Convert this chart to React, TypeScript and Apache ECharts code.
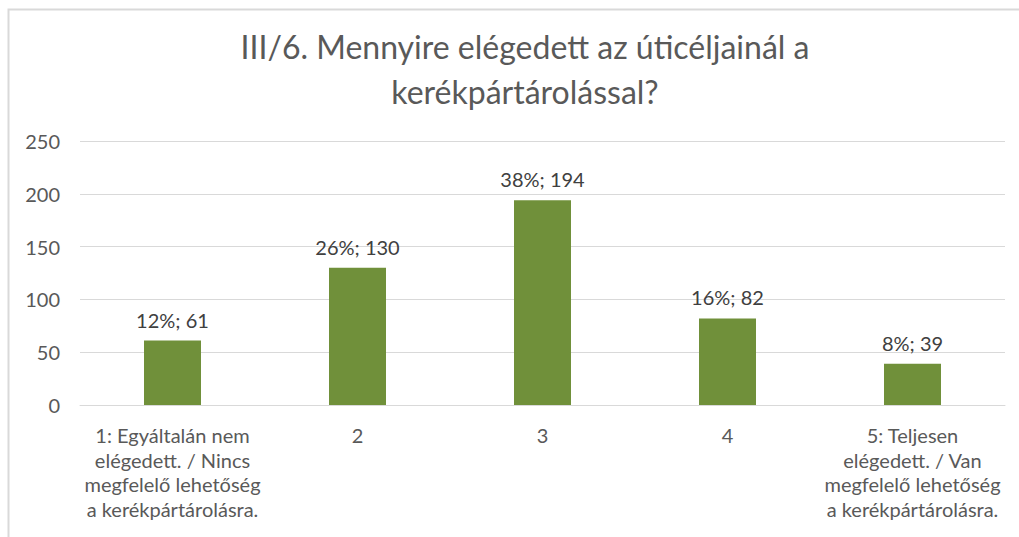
import React, { useEffect, useRef } from "react";
import * as echarts from "echarts";

const titleText = "III/6. Mennyire elégedett az úticéljainál a\nkerékpártárolással?";
const categories = [
  "1: Egyáltalán nem\nelégedett. / Nincs\nmegfelelő lehetőség\na kerékpártárolásra.",
  "2",
  "3",
  "4",
  "5: Teljesen\nelégedett. / Van\nmegfelelő lehetőség\na kerékpártárolásra.",
];
const counts = [61, 130, 194, 82, 39];
const percents = ["12%", "26%", "38%", "16%", "8%"];
const yTicks = { min: 0, max: 250, interval: 50 };

const FONT = "Lato, 'Open Sans', sans-serif";

export default function App() {
  const ref = useRef<HTMLDivElement>(null);
  useEffect(() => {
    if (!ref.current) return;
    const chart = echarts.init(ref.current, undefined, { renderer: "svg" });
    chart.setOption({
      animation: false,
      backgroundColor: "#ffffff",
      title: {
        text: titleText,
        left: 520,
        textAlign: "center",
        top: 19,
        textStyle: {
          fontFamily: FONT,
          fontSize: 32,
          fontWeight: "normal",
          color: "#595959",
          lineHeight: 45,
        },
      },
      graphic: [
        {
          type: "rect",
          shape: { x: 8.5, y: 9.5, width: 1030, height: 600 },
          style: { fill: "none", stroke: "#d9d9d9", lineWidth: 2 },
          silent: true,
        },
      ],
      grid: { left: 80, right: 14, top: 141, bottom: 132 },
      xAxis: {
        type: "category",
        data: categories,
        axisTick: { show: false },
        axisLine: { lineStyle: { color: "#d9d9d9", width: 1 } },
        axisLabel: {
          interval: 0,
          margin: 18,
          fontFamily: FONT,
          fontSize: 20,
          color: "#595959",
          lineHeight: 24.5,
        },
      },
      yAxis: {
        type: "value",
        min: yTicks.min,
        max: yTicks.max,
        interval: yTicks.interval,
        axisLine: { show: false },
        axisTick: { show: false },
        splitLine: { lineStyle: { color: "#d9d9d9", width: 1 } },
        axisLabel: {
          margin: 20,
          fontFamily: FONT,
          fontSize: 20,
          color: "#595959",
        },
      },
      series: [
        {
          type: "bar",
          data: counts,
          barWidth: 57,
          itemStyle: { color: "#70903a" },
          label: {
            show: true,
            position: "top",
            distance: 11,
            fontFamily: FONT,
            fontSize: 20,
            color: "#404040",
            formatter: (p: any) => `${percents[p.dataIndex]}; ${p.value}`,
          },
        },
      ],
    });
    return () => chart.dispose();
  }, []);
  return (
    <div
      ref={ref}
      style={{ position: "fixed", left: 0, top: 0, width: 1019, height: 537 }}
    />
  );
}
